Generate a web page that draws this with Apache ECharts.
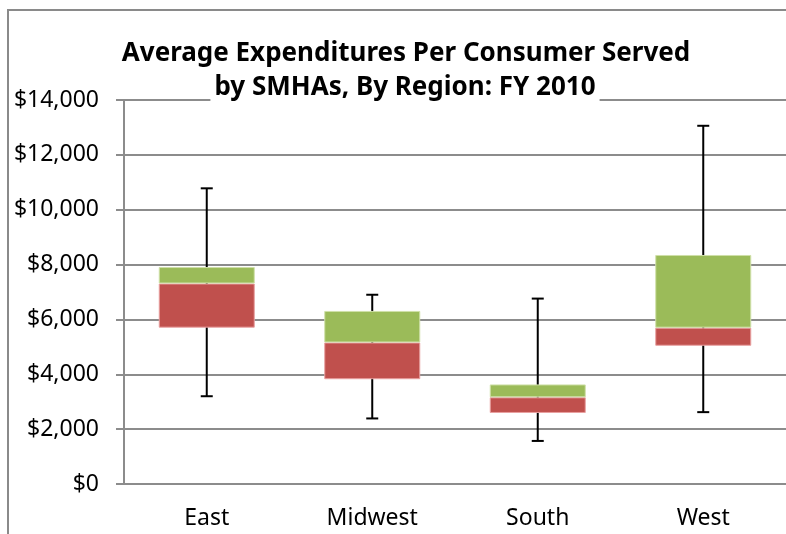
<!DOCTYPE html>
<html>
<head>
<meta charset="utf-8">
<script src="https://cdn.jsdelivr.net/npm/echarts@6/dist/echarts.min.js"></script>
<style>
  html, body { margin: 0; padding: 0; background: #fff; }
  #chart { width: 786px; height: 534px; }
</style>
</head>
<body>
<div id="chart"></div>
<script>
const categories = ['East', 'Midwest', 'South', 'West']
const minVals = [3200, 2390, 1570, 2620]
const q1Vals = [5700, 3820, 2590, 5040]
const medianVals = [7310, 5160, 3160, 5700]
const q3Vals = [7910, 6310, 3630, 8350]
const maxVals = [10780, 6900, 6760, 13060]
const yTicks = [0, 2000, 4000, 6000, 8000, 10000, 12000, 14000]

const lowerBox = q1Vals.map((v, i) => medianVals[i] - v)
const upperBox = q3Vals.map((v, i) => v - medianVals[i])
const whiskers = categories.map((c, i) => [i, minVals[i], maxVals[i]])

const font = "'Noto Sans', sans-serif"
const gridColor = '#8c8c8c'

const chart = echarts.init(document.getElementById('chart'))
chart.setOption({
  animation: false,
  backgroundColor: '#fff',
  title: [
    {
      text: 'Average Expenditures Per Consumer Served',
      left: 401, top: 32, textAlign: 'center',
      textStyle: { fontFamily: font, fontSize: 26, fontWeight: 'bold', color: '#000', lineHeight: 34 }
    },
    {
      text: 'by SMHAs, By Region: FY 2010',
      left: 401, top: 71, textAlign: 'center', padding: [0, 4],
      backgroundColor: '#fff',
      textStyle: { fontFamily: font, fontSize: 26, fontWeight: 'bold', color: '#000', lineHeight: 34 }
    }
  ],
  graphic: [{
    type: 'rect', silent: true, z: -1,
    shape: { x: 8, y: 10, width: 900, height: 700 },
    style: { fill: 'none', stroke: '#8a8a8a', lineWidth: 2 }
  }],
  grid: { left: 124, right: 0, top: 100, bottom: 50 },
  xAxis: {
    type: 'category',
    data: categories,
    axisLine: { lineStyle: { color: gridColor, width: 2 } },
    axisTick: { length: 8, lineStyle: { color: gridColor, width: 2 } },
    axisLabel: { margin: 23, fontFamily: font, fontSize: 23, color: '#000' }
  },
  yAxis: {
    type: 'value',
    min: yTicks[0], max: yTicks[yTicks.length - 1], interval: yTicks[1] - yTicks[0],
    axisLine: { show: true, lineStyle: { color: gridColor, width: 2 } },
    axisTick: { show: true, length: 8, lineStyle: { color: gridColor, width: 2 } },
    splitLine: { lineStyle: { color: gridColor, width: 2 } },
    axisLabel: {
      margin: 25, fontFamily: font, fontSize: 23, color: '#000',
      formatter: v => '$' + v.toLocaleString('en-US')
    }
  },
  series: [
    {
      type: 'custom',
      z: 1,
      renderItem: (params, api) => {
        const lo = api.coord([api.value(0), api.value(1)])
        const hi = api.coord([api.value(0), api.value(2)])
        const cap = 6
        const st = { stroke: '#000', lineWidth: 2 }
        return {
          type: 'group',
          children: [
            { type: 'line', shape: { x1: lo[0], y1: lo[1], x2: hi[0], y2: hi[1] }, style: st },
            { type: 'line', shape: { x1: lo[0] - cap, y1: lo[1], x2: lo[0] + cap, y2: lo[1] }, style: st },
            { type: 'line', shape: { x1: hi[0] - cap, y1: hi[1], x2: hi[0] + cap, y2: hi[1] }, style: st }
          ]
        }
      },
      data: whiskers
    },
    {
      type: 'bar', stack: 'box', barWidth: 96, z: 2,
      itemStyle: { color: 'transparent' },
      data: q1Vals
    },
    {
      type: 'bar', stack: 'box', barWidth: 96, z: 2,
      itemStyle: { color: '#C0504D', borderColor: '#e8a0a0', borderWidth: 1 },
      data: lowerBox
    },
    {
      type: 'bar', stack: 'box', barWidth: 96, z: 2,
      itemStyle: { color: '#9BBB59', borderColor: '#cfe0a8', borderWidth: 1 },
      data: upperBox
    }
  ]
})
</script>
</body>
</html>
